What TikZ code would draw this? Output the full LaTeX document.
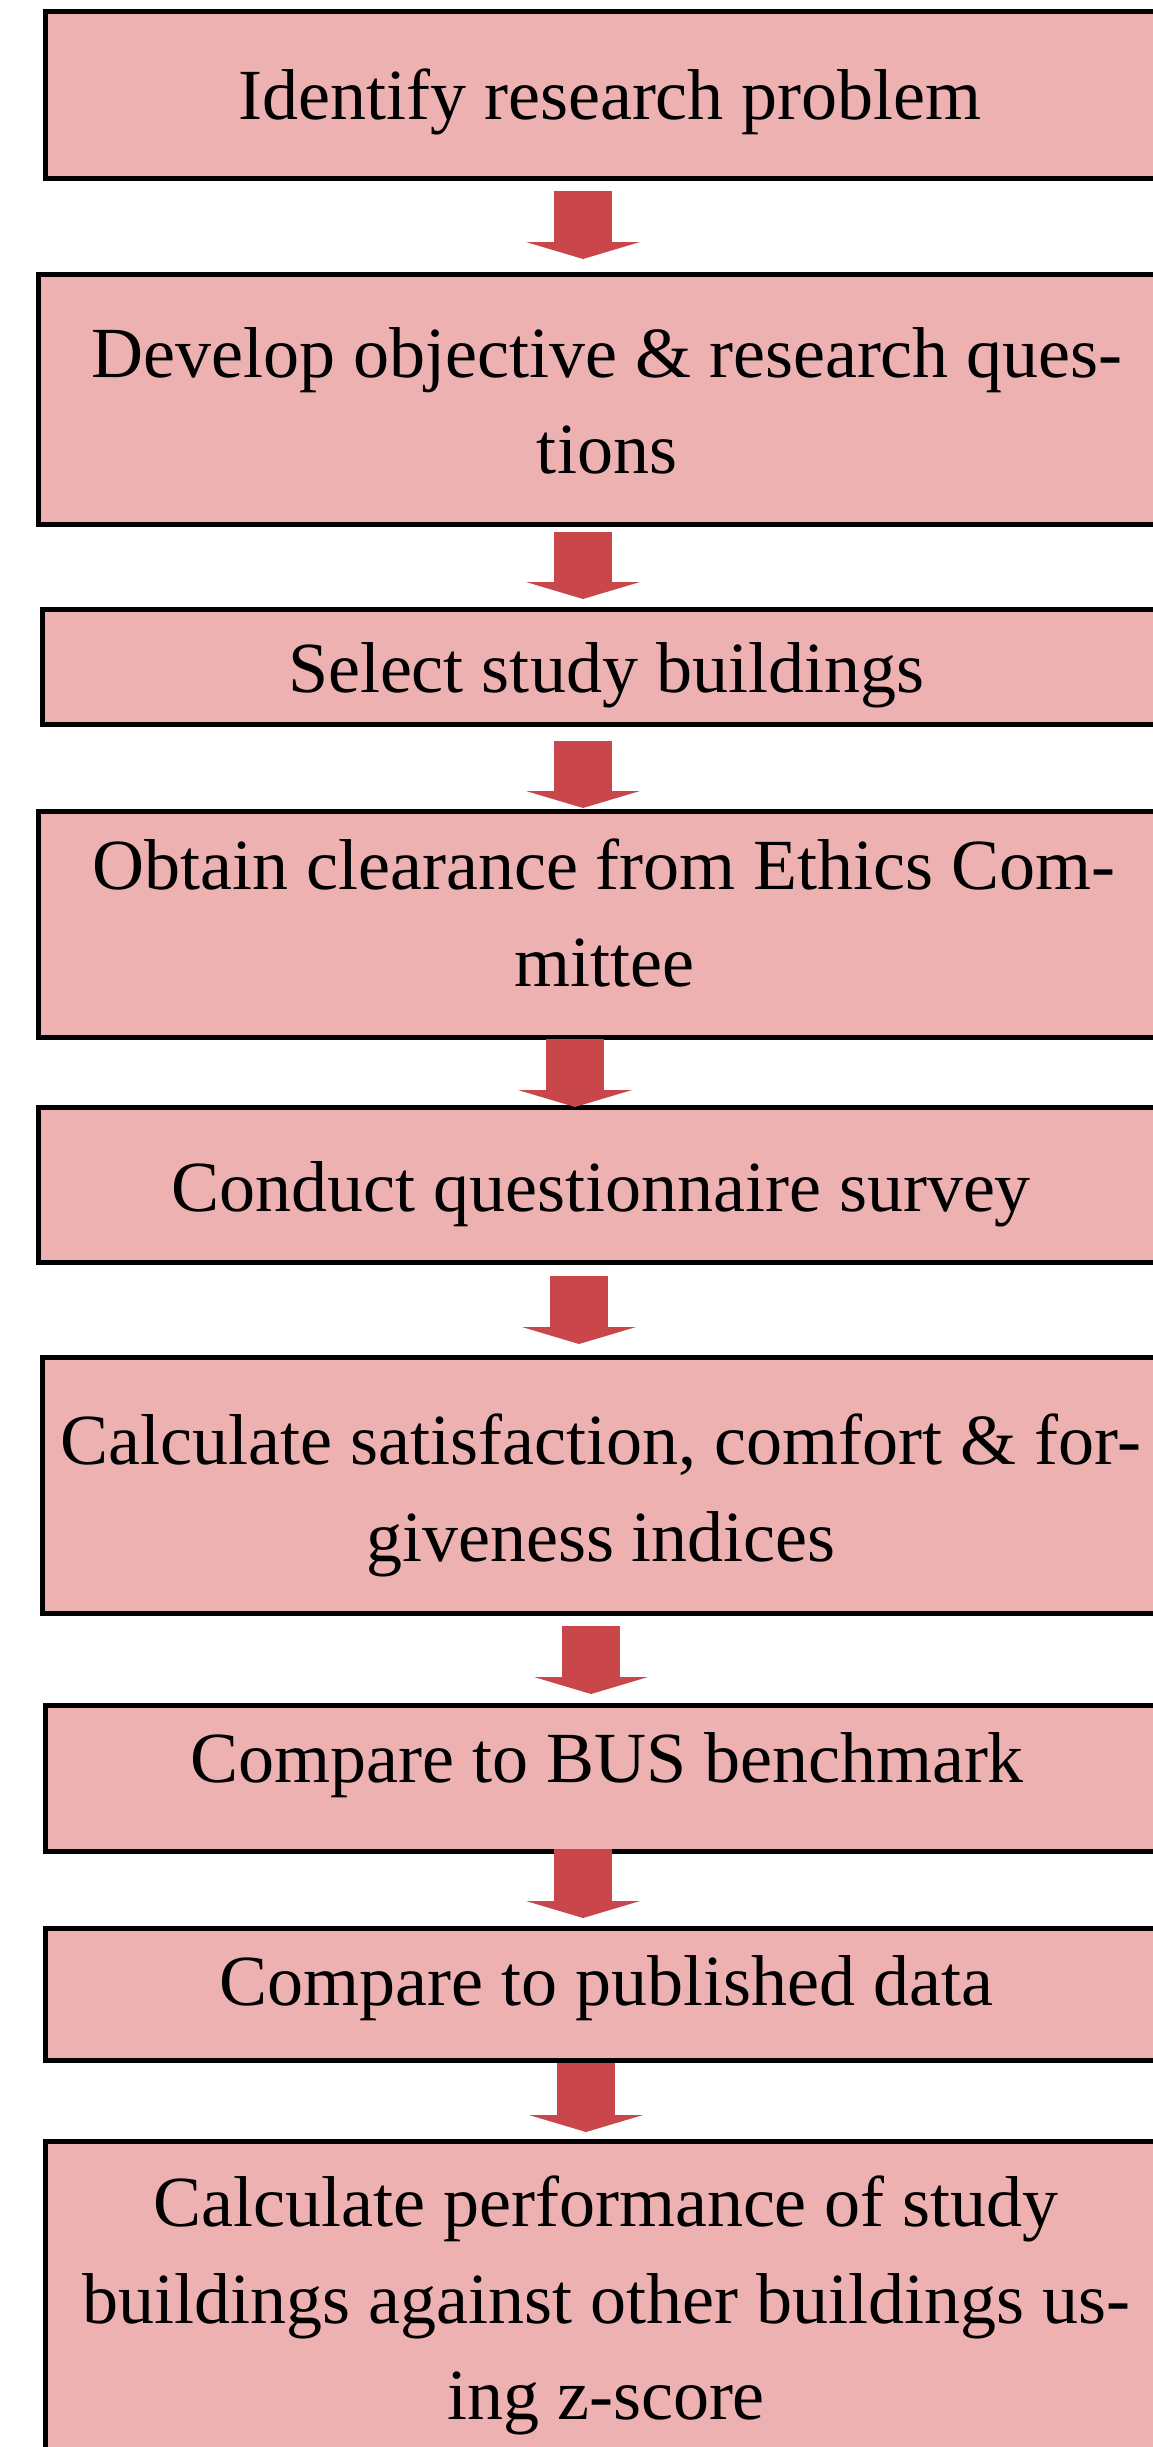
\documentclass[tikz,border=0pt]{standalone}
\usepackage{fontspec}
\setmainfont{Liberation Serif}
\usetikzlibrary{arrows.meta}
\definecolor{boxfill}{RGB}{237,177,177}
\definecolor{flowred}{RGB}{201,70,74}
\begin{document}
\begin{tikzpicture}[x=1pt,y=-1pt,
  stage/.style={draw=black, line width=5pt, fill=boxfill, inner sep=0pt},
  stagetext/.style={anchor=north, inner sep=0pt, align=center,
    font=\fontsize{72}{96.5}\selectfont,
    execute at begin node={\rule{0pt}{60pt}}},
  flow/.style={draw=flowred, line width=58pt,
    -{Triangle[width=114pt,length=17pt,line width=0pt]}}
]
\useasboundingbox (0,0) rectangle (1152,2447);
\fill[white] (0,0) rectangle (1152,2447);

% process stages (boxes run past the right edge of the page)
\node[stage, minimum width=1127pt, minimum height=167pt] (b1) at (609,95) {};
\node[stage, minimum width=1134pt, minimum height=250pt] (b2) at (605.5,399.5) {};
\node[stage, minimum width=1130pt, minimum height=115pt] (b3) at (607.5,667) {};
\node[stage, minimum width=1134pt, minimum height=226pt] (b4) at (605.5,924.5) {};
\node[stage, minimum width=1134pt, minimum height=155pt] (b5) at (605.5,1185) {};
\node[stage, minimum width=1130pt, minimum height=256pt] (b6) at (607.5,1485.5) {};
\node[stage, minimum width=1127pt, minimum height=146pt] (b7) at (609,1778.5) {};
\node[stage, minimum width=1127pt, minimum height=132pt] (b8) at (609,1994.5) {};
\node[stage, minimum width=1127pt, minimum height=377pt] (b9) at (609,2330) {};

% stage labels
\node[stagetext] (t1) at (610,59) {Identify research problem};
\node[stagetext] (t2) at (607,327) {Develop objective \& research ques-\\tions};
\node[stagetext] (t3) at (606,632) {Select study buildings};
\node[stagetext] (t4) at (604,839) {Obtain clearance from Ethics Com-\\mittee};
\node[stagetext] (t5) at (601,1151) {Conduct questionnaire survey};
\node[stagetext] (t6) at (601,1414) {Calculate satisfaction, comfort \& for-\\giveness indices};
\node[stagetext] (t7) at (607,1722) {Compare to BUS benchmark};
\node[stagetext] (t8) at (606,1945) {Compare to published data};
\node[stagetext] (t9) at (606,2176) {Calculate performance of study\\buildings against other buildings us-\\ing z-score};

% block arrows between consecutive stages
\draw[flow, shorten <=10pt, shorten >=13pt] (b1.south -| 583,0) -- (b2.north -| 583,0);
\draw[flow, shorten <=5pt,  shorten >=8pt]  (b2.south -| 583,0) -- (b3.north -| 583,0);
\draw[flow, shorten <=14pt, shorten >=1pt]  (b3.south -| 583,0) -- (b4.north -| 583,0);
\draw[flow, shorten <=-1pt, shorten >=-2pt] (b4.south -| 575,0) -- (b5.north -| 575,0);
\draw[flow, shorten <=11pt, shorten >=11pt] (b5.south -| 579,0) -- (b6.north -| 579,0);
\draw[flow, shorten <=10pt, shorten >=9pt]  (b6.south -| 591,0) -- (b7.north -| 591,0);
\draw[flow, shorten <=-5pt, shorten >=8pt]  (b7.south -| 583,0) -- (b8.north -| 583,0);
\draw[flow, shorten <=0pt,  shorten >=7pt]  (b8.south -| 586,0) -- (b9.north -| 586,0);
\end{tikzpicture}
\end{document}
